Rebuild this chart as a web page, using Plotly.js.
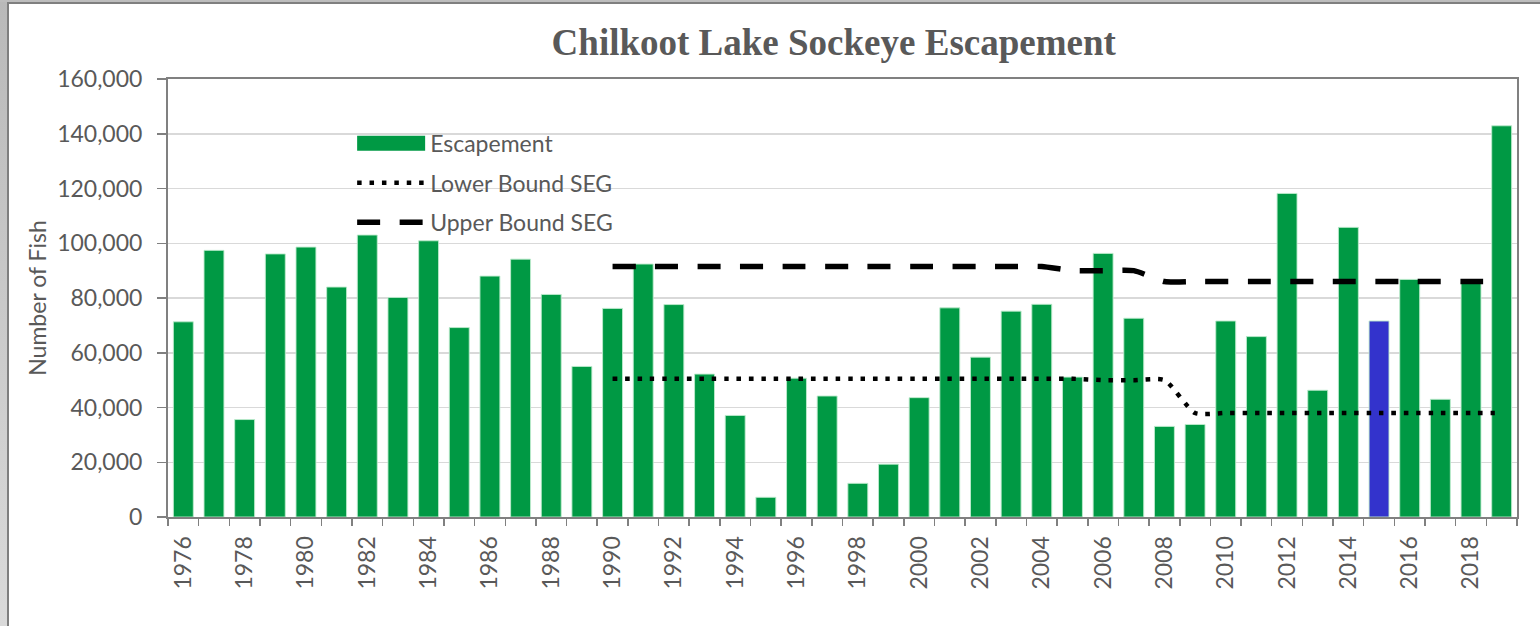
<!DOCTYPE html>
<html>
<head>
<meta charset="utf-8">
<script src="https://cdn.plot.ly/plotly-3.0.1.min.js"></script>
<style>
  html, body { margin: 0; padding: 0; background: #ffffff; }
  #wrap { position: relative; width: 1540px; height: 626px; overflow: hidden; }
  #chart { position: absolute; left: 0; top: 0; width: 1540px; height: 626px; }
  .edgeL { position: absolute; left: 0; top: 0; width: 7px; height: 626px; background: linear-gradient(#b9b9b9, #dadada); pointer-events: none; }
  .lineL { position: absolute; left: 7px; top: 2px; width: 2px; height: 624px; background: #7f7f7f; pointer-events: none; }
  .edgeT { position: absolute; left: 0; top: 0; width: 1540px; height: 2px; background: #bdbdbd; pointer-events: none; }
  .lineT { position: absolute; left: 7px; top: 2px; width: 1533px; height: 2px; background: #7f7f7f; pointer-events: none; }
</style>
</head>
<body>
<div id="wrap">
  <div id="chart"></div>
  <div class="edgeL"></div><div class="edgeT"></div><div class="lineL"></div><div class="lineT"></div>
</div>
<script>
// ---- data ----
const years = [1976,1977,1978,1979,1980,1981,1982,1983,1984,1985,1986,1987,1988,1989,1990,1991,1992,1993,1994,1995,1996,1997,1998,1999,2000,2001,2002,2003,2004,2005,2006,2007,2008,2009,2010,2011,2012,2013,2014,2015,2016,2017,2018,2019];
const escapement = [71300,97400,35600,96100,98600,84000,103000,80200,100900,69200,88000,94200,81300,55000,76200,92400,77600,52200,37100,7200,50700,44200,12300,19300,43600,76400,58400,75200,77700,51100,96300,72600,33100,33800,71600,65900,118200,46300,105800,71600,86800,43000,85800,142900];
const lowerBound = [null,null,null,null,null,null,null,null,null,null,null,null,null,null,50500,50500,50500,50500,50500,50500,50500,50500,50500,50500,50500,50500,50500,50500,50500,50500,50000,50000,50000,38000,38000,38000,38000,38000,38000,38000,38000,38000,38000,38000];
const upperBound = [null,null,null,null,null,null,null,null,null,null,null,null,null,null,91500,91500,91500,91500,91500,91500,91500,91500,91500,91500,91500,91500,91500,91500,91500,90000,90000,90000,86000,86000,86000,86000,86000,86000,86000,86000,86000,86000,86000,86000];
const highlightYear = 2015;
const seriesNames = ['Escapement', 'Lower Bound SEG', 'Upper Bound SEG'];
const chartTitle = 'Chilkoot Lake Sockeye Escapement';
const yTitle = 'Number of Fish';

const GREEN = '#009944';
const BLUE = '#3333CC';
const GREY = '#595959';
const FONT = 'Lato, "Open Sans", sans-serif';

const barColors = years.map(y => y === highlightYear ? BLUE : GREEN);

const traces = [
  {
    type: 'bar', x: years, y: escapement, name: seriesNames[0],
    marker: { color: barColors, line: { color: 'rgba(190,235,205,0.9)', width: 1 } },
    showlegend: false, hoverinfo: 'x+y'
  },
  {
    type: 'scatter', mode: 'lines', x: [null], y: [null], name: seriesNames[0],
    line: { color: GREEN, width: 15 }, legendgroup: 'g1', hoverinfo: 'skip'
  },
  {
    type: 'scatter', mode: 'lines', x: years, y: lowerBound, name: seriesNames[1],
    line: { color: '#000000', width: 4.5, dash: '4.5px,7.9px', shape: 'spline', smoothing: 0.6 },
    connectgaps: false, legendgroup: 'g2'
  },
  {
    type: 'scatter', mode: 'lines', x: years, y: upperBound, name: seriesNames[2],
    line: { color: '#000000', width: 5.5, dash: '23px,19.5px', shape: 'spline', smoothing: 0.6 },
    connectgaps: false, legendgroup: 'g3'
  }
];

const layout = {
  width: 1540, height: 626,
  margin: { l: 168, r: 23, t: 79, b: 109, pad: 0 },
  paper_bgcolor: '#ffffff', plot_bgcolor: '#ffffff',
  font: { family: FONT, color: GREY, size: 23 },
  title: {
    text: '<b>' + chartTitle + '</b>',
    font: { family: '"Liberation Serif", "Times New Roman", serif', size: 37, color: GREY },
    xref: 'paper', x: 0.4935, xanchor: 'center',
    yref: 'container', y: 0.933, yanchor: 'middle'
  },
  bargap: 0.35,
  xaxis: {
    type: 'linear', range: [1975.5, 2019.5], fixedrange: true,
    tick0: 1976, dtick: 2, tickangle: -90,
    ticks: 'outside', ticklen: 8, tickcolor: 'rgba(0,0,0,0)',
    tickfont: { family: FONT, size: 23, color: GREY },
    showline: true, linecolor: '#808080', linewidth: 2, mirror: true,
    showgrid: false, zeroline: false,
    minor: { tick0: 1975.5, dtick: 1, ticks: 'outside', ticklen: 7, tickcolor: '#808080', tickwidth: 1.5, showgrid: false }
  },
  yaxis: {
    range: [0, 160000], dtick: 20000, tickformat: ',d', fixedrange: true,
    ticks: 'outside', ticklen: 9, tickcolor: '#808080', tickwidth: 1.5,
    ticklabelstandoff: 10,
    tickfont: { family: FONT, size: 23, color: GREY },
    showline: true, linecolor: '#808080', linewidth: 2, mirror: true,
    showgrid: true, gridcolor: '#d9d9d9', gridwidth: 1.5, zeroline: false,
    title: { text: yTitle, font: { family: FONT, size: 23, color: GREY }, standoff: 4 }
  },
  legend: {
    x: 0.1365, xanchor: 'left', y: 0.902, yanchor: 'top',
    bgcolor: 'rgba(0,0,0,0)', borderwidth: 0,
    font: { family: FONT, size: 23, color: GREY },
    itemwidth: 68, traceorder: 'grouped', tracegroupgap: 6.5
  },
  showlegend: true
};

Plotly.newPlot('chart', traces, layout, { displayModeBar: false, staticPlot: true }).then(function (gd) {
  // legend swatch for the bar series: widen the line symbol to a 15px-tall block like the reference
  var items = gd.querySelectorAll('.legend .traces');
  if (items.length) {
    var p = items[0].querySelector('path.js-line');
    if (p) p.style.strokeWidth = '15px';
  }
});
</script>
</body>
</html>
